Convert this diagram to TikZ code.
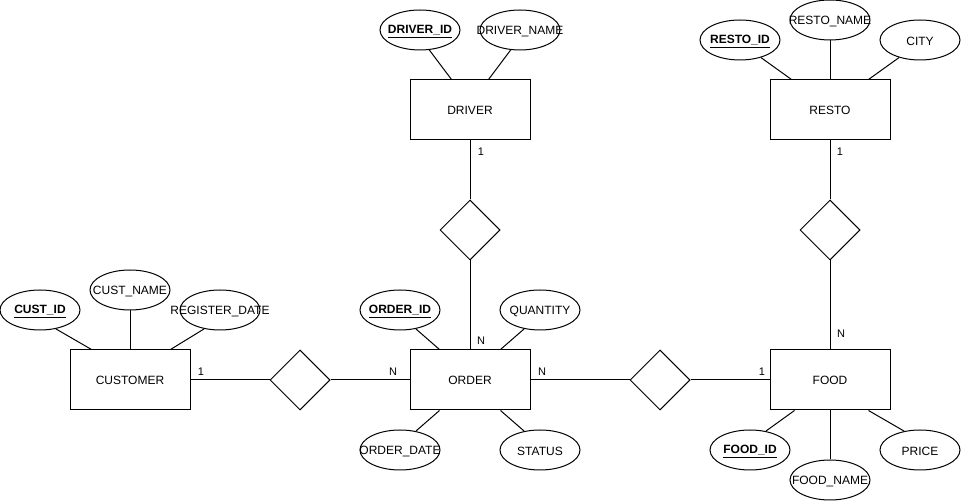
\documentclass[tikz,border=0pt]{standalone}
\usepackage{fontspec}
\setmainfont{Liberation Sans}
\usetikzlibrary{shapes.geometric,calc}
\newcommand{\keyattr}[1]{\textbf{\underline{#1}}}
\begin{document}
\begin{tikzpicture}[x=1pt,y=-1pt,
  every node/.style={font=\fontsize{12}{14}\selectfont},
  every label/.style={yshift=-1.5pt},
  entity/.style={draw,line width=1pt,minimum width=120pt,minimum height=60pt,inner sep=0pt},
  rel/.style={draw,line width=1pt,diamond,minimum width=60pt,minimum height=60pt,inner sep=0pt,aspect=1},
  attr/.style={draw,line width=1pt,ellipse,minimum width=80pt,minimum height=40pt,inner sep=0pt},
  lnk/.style={line width=1pt},
  card/.style={font=\fontsize{11}{13}\selectfont,inner sep=0pt}]
\useasboundingbox (0,0) rectangle (962,502);
% entities
\node[entity] (cust) at (130,380) {CUSTOMER};
\node[entity] (ord) at (470,380) {ORDER};
\node[entity] (food) at (830,380) {FOOD};
\node[entity] (drv) at (470,110) {DRIVER};
\node[entity] (resto) at (830,110) {RESTO};
% relationships
\node[rel] (r1) at (300,380) {};
\node[rel] (r2) at (660,380) {};
\node[rel] (r3) at (470,230) {};
\node[rel] (r4) at (830,230) {};
% attributes
\node[attr,label=center:{\keyattr{CUST\_ID}}] (cid) at (40,310) {};
\node[attr,label=center:{CUST\_NAME}] (cname) at (130,290) {};
\node[attr,label=center:{REGISTER\_DATE}] (rdate) at (220,310) {};
\node[attr,label=center:{\keyattr{ORDER\_ID}}] (oid) at (400,310) {};
\node[attr,label=center:{QUANTITY}] (qty) at (540,310) {};
\node[attr,label=center:{ORDER\_DATE}] (odate) at (400,450) {};
\node[attr,label=center:{STATUS}] (stat) at (540,450) {};
\node[attr,label=center:{\keyattr{FOOD\_ID}}] (fid) at (750,450) {};
\node[attr,label=center:{FOOD\_NAME}] (fname) at (830,480) {};
\node[attr,label=center:{PRICE}] (price) at (920,450) {};
\node[attr,label=center:{\keyattr{DRIVER\_ID}}] (did) at (420,30) {};
\node[attr,label=center:{DRIVER\_NAME}] (dname) at (520,30) {};
\node[attr,label=center:{\keyattr{RESTO\_ID}}] (rid) at (740,40) {};
\node[attr,label=center:{RESTO\_NAME}] (rname) at (830,20) {};
\node[attr,label=center:{CITY}] (city) at (920,40) {};
% attribute links
\draw[lnk] (cid.-50) -- ($(cust.north west)+(22,0)$);
\draw[lnk] (cname.south) -- (cust.north);
\draw[lnk] (rdate.-130) -- ($(cust.north east)+(-20,0)$);
\draw[lnk] (oid.-50) -- ($(ord.north west)+(30,0)$);
\draw[lnk] (qty.-130) -- ($(ord.north east)+(-30,0)$);
\draw[lnk] (odate.50) -- ($(ord.south west)+(30,0)$);
\draw[lnk] (stat.130) -- ($(ord.south east)+(-30,0)$);
\draw[lnk] (fid.50) -- ($(food.south west)+(25,0)$);
\draw[lnk] (fname.north) -- (food.south);
\draw[lnk] (price.130) -- ($(food.south east)+(-22,0)$);
\draw[lnk] (did.-65) -- ($(drv.north west)+(42,0)$);
\draw[lnk] (dname.-115) -- ($(drv.north east)+(-42,0)$);
\draw[lnk] (rid.-40) -- ($(resto.north west)+(22,0)$);
\draw[lnk] (rname.south) -- (resto.north);
\draw[lnk] (city.-140) -- ($(resto.north east)+(-22,0)$);
% relationship links
\draw[lnk] (cust.east) -- (r1.west);
\draw[lnk] (r1.east) -- (ord.west);
\draw[lnk] (ord.east) -- (r2.west);
\draw[lnk] (r2.east) -- (food.west);
\draw[lnk] (drv.south) -- (r3.north);
\draw[lnk] (r3.south) -- (ord.north);
\draw[lnk] (resto.south) -- (r4.north);
\draw[lnk] (r4.south) -- (food.north);
% cardinalities
\node[card] (c1) at (201,372) {1};
\node[card] (c2) at (393,372) {N};
\node[card] (c3) at (542,372) {N};
\node[card] (c4) at (762,372) {1};
\node[card] (c5) at (481,152) {1};
\node[card] (c6) at (481,341) {N};
\node[card] (c7) at (840,152) {1};
\node[card] (c8) at (841,334) {N};
\end{tikzpicture}
\end{document}
